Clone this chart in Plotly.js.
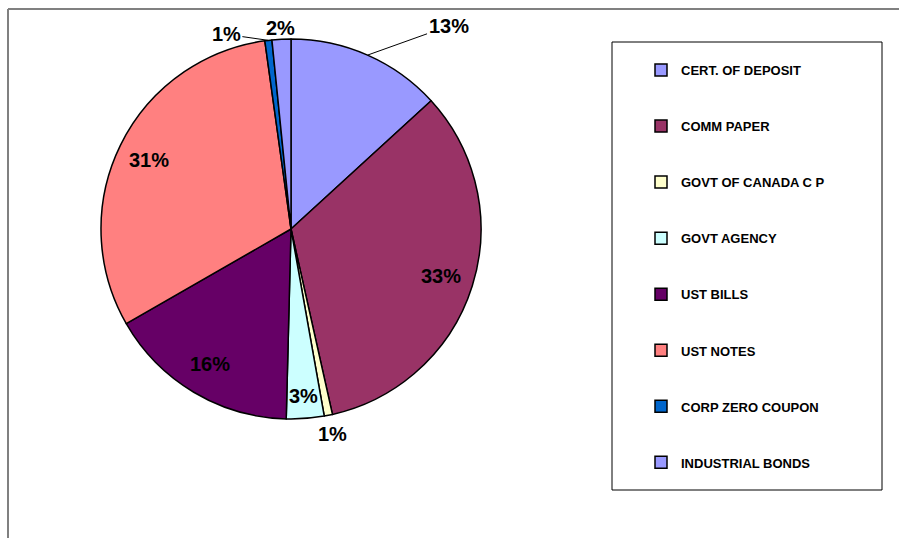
<!DOCTYPE html>
<html>
<head>
<meta charset="utf-8">
<script src="https://cdn.plot.ly/plotly-3.0.1.min.js"></script>
<style>html,body{margin:0;padding:0;background:#fff;}#chart{width:899px;height:538px;}</style>
</head>
<body>
<div id="chart"></div>
<script>
const categories = ["CERT. OF DEPOSIT","COMM PAPER","GOVT OF CANADA C P","GOVT AGENCY","UST BILLS","UST NOTES","CORP ZERO COUPON","INDUSTRIAL BONDS"];
const shares = [13.2, 33.3, 0.7, 3.2, 16.3, 31.1, 0.6, 1.6];
const colors = ["#9999FF","#993366","#FFFFCC","#CCFFFF","#660066","#FF8080","#0066CC","#9999FF"];
// label placement style: radius factor of label (or leader-line anchor) and leader offsets in px
const labelRadius = [1.0, 0.83, 1.1, 0.88, 0.83, 0.83, 1.0, 1.06];
const leaderDX = [81, 0, 0, 0, 0, 0, -42, 0];
const leaderDY = [-29, 0, 0, 0, 0, 0, -6, 0];

const W = 899, H = 538;
const px = v => v / W, py = v => 1 - v / H;
const CX = 291, CY = 229, R = 190;

const FONT = 'Liberation Sans, Arial, sans-serif';
const legendLabels = categories.map(c => '\u00a0<br><span style="font-size:13px"><b>' + c + '</b></span><br>\u00a0');

const total = shares.reduce((a, b) => a + b, 0);
const annotations = [];
let cum = 0;
shares.forEach((v, i) => {
  const mid = (cum + v / 2) / total * 2 * Math.PI;
  cum += v;
  const r = R * labelRadius[i];
  const x = CX + r * Math.sin(mid);
  const y = CY - r * Math.cos(mid);
  const txt = '<b>' + Math.round(v / total * 100) + '%</b>';
  const hasLeader = leaderDX[i] !== 0 || leaderDY[i] !== 0;
  annotations.push({
    xref: 'paper', yref: 'paper',
    x: px(x), y: py(y),
    text: txt,
    font: {family: FONT, size: 20, color: '#000000'},
    showarrow: hasLeader,
    arrowhead: 0, arrowwidth: 1, arrowcolor: '#000000',
    ax: leaderDX[i], ay: leaderDY[i],
    xanchor: 'center', yanchor: 'middle',
    standoff: 0, startstandoff: 0
  });
});

const trace = {
  type: 'pie',
  labels: legendLabels,
  values: shares,
  sort: false,
  direction: 'clockwise',
  rotation: 0,
  marker: {colors: colors, line: {color: '#000000', width: 1.5}},
  textinfo: 'none',
  hoverinfo: 'none',
  domain: {x: [px(CX - R), px(CX + R)], y: [py(CY + R), py(CY - R)]}
};

const layout = {
  width: W, height: H,
  margin: {l: 0, r: 0, t: 0, b: 0},
  paper_bgcolor: '#ffffff',
  font: {family: FONT, color: '#000000'},
  showlegend: true,
  legend: {
    x: px(641), xanchor: 'left',
    y: py(37), yanchor: 'top',
    bgcolor: 'rgba(0,0,0,0)', borderwidth: 0,
    font: {family: FONT, size: 13.6, color: '#000000'},
    traceorder: 'normal'
  },
  annotations: annotations,
  shapes: [
    {type: 'line', xref: 'paper', yref: 'paper', x0: px(8), x1: 1, y0: py(9), y1: py(9), line: {color: '#808080', width: 2}},
    {type: 'line', xref: 'paper', yref: 'paper', x0: px(8), x1: px(8), y0: py(9), y1: 0, line: {color: '#808080', width: 2}},
    {type: 'rect', xref: 'paper', yref: 'paper', x0: px(612), x1: px(882), y0: py(42), y1: py(490), line: {color: '#000000', width: 1}, fillcolor: 'rgba(0,0,0,0)'}
  ]
};

Plotly.newPlot('chart', [trace], layout, {staticPlot: true, displayModeBar: false});
</script>
</body>
</html>
